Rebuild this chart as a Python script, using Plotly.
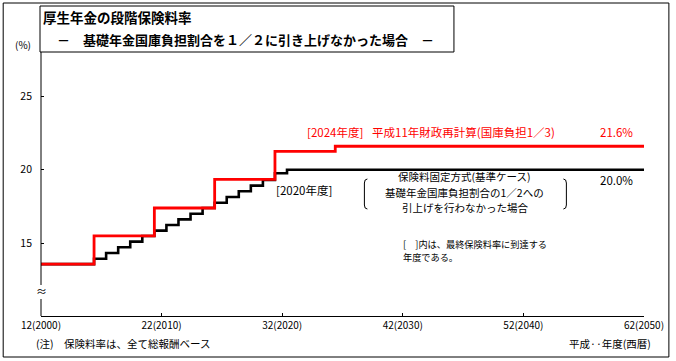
import plotly.graph_objects as go

# ---- data ----
red_years = [2000, 2004.4, 2009.4, 2014.4, 2019.4, 2024.4, 2050]
red_rates = [13.58, 15.5, 17.4, 19.35, 21.25, 21.6, 21.6]

black_years = [2000, 2004.4, 2005.4, 2006.4, 2007.4, 2008.4, 2009.4, 2010.4, 2011.4,
               2012.4, 2013.4, 2014.4, 2015.4, 2016.4, 2017.4, 2018.4, 2019.4, 2020.4, 2050]
black_rates = [13.58, 13.95, 14.34, 14.73, 15.11, 15.5, 15.86, 16.24, 16.63,
               17.01, 17.4, 17.76, 18.15, 18.54, 18.92, 19.3, 19.76, 20.0, 20.0]

x_tickvals = [2000, 2010, 2020, 2030, 2040, 2050]
x_ticktext = ["12(2000)", "22(2010)", "32(2020)", "42(2030)", "52(2040)", "62(2050)"]
y_tickvals = [15, 20, 25]
y_ticktext = ["15", "20", "25"]

W, H = 676, 361
L, R, T, B = 41, 647, 51, 316
FONT = "Noto Sans CJK JP"


def px(x):
    return (x - L) / (R - L)


def py(y):
    return (B - y) / (B - T)


fig = go.Figure()
fig.add_trace(go.Scatter(x=black_years, y=black_rates, mode="lines", line_shape="hv",
                         line=dict(color="#000000", width=2.6), hoverinfo="skip",
                         showlegend=False))
fig.add_trace(go.Scatter(x=red_years, y=red_rates, mode="lines", line_shape="hv",
                         line=dict(color="#FF0000", width=2.8), hoverinfo="skip",
                         showlegend=False))

shapes = []
# outer frame
shapes.append(dict(type="rect", xref="paper", yref="paper", x0=px(3), x1=px(672),
                   y0=py(357), y1=py(3), line=dict(color="black", width=1)))
# title box
shapes.append(dict(type="rect", xref="paper", yref="paper", x0=px(40), x1=px(456),
                   y0=py(52), y1=py(6), line=dict(color="black", width=1),
                   fillcolor="white", layer="above"))
# y axis line with break
shapes.append(dict(type="line", xref="paper", yref="paper", x0=0, x1=0,
                   y0=py(316), y1=py(299), line=dict(color="black", width=1)))
shapes.append(dict(type="line", xref="paper", yref="paper", x0=0, x1=0,
                   y0=py(285), y1=py(52), line=dict(color="black", width=1)))


# large brackets around the black-line caption
def bracket(xc, top, bot, left=True):
    d = 3 if left else -3
    return dict(type="path", xref="paper", yref="paper",
                path=(f"M {px(xc + d)},{py(top)} Q {px(xc)},{py(top)} {px(xc)},{py(top + 4)} "
                      f"L {px(xc)},{py(bot - 4)} Q {px(xc)},{py(bot)} {px(xc + d)},{py(bot)}"),
                line=dict(color="black", width=1))


shapes.append(bracket(366, 179, 209, True))
shapes.append(bracket(569, 179, 209, False))

ann = []


def text(x, y, s, size=12, color="black", xanchor="left", bold=False, align="left"):
    ann.append(dict(x=px(x), y=py(y), xref="paper", yref="paper", text=s,
                    showarrow=False, xanchor=xanchor, yanchor="middle", align=align,
                    font=dict(family=FONT, size=size, color=color,
                              weight="bold" if bold else "normal")))


text(41, 17, "厚生年金の段階保険料率", size=13.5, bold=True)
text(55, 39, "－　基礎年金国庫負担割合を１／２に引き上げなかった場合　－", size=13, bold=True)
text(23, 44, "(%)", size=10, xanchor="center")
text(41, 291, "≈", size=11, xanchor="center")

text(306, 132, "[2024年度]", size=11.5, color="#FF0000")
text(372, 132, "平成11年財政再計算(国庫負担1／3)", size=11.5, color="#FF0000")
text(601, 132, "21.6%", size=11.5, color="#FF0000")

text(601, 180, "20.0%", size=11.5)
text(275, 190, "[2020年度]", size=11.5)
text(467, 176.8, "保険料固定方式(基準ケース)", size=10.5, xanchor="center")
text(467, 192, "基礎年金国庫負担割合の1／2への", size=10.5, xanchor="center")
text(467, 207.2, "引上げを行わなかった場合", size=10.5, xanchor="center")

text(403, 243.5, "[　]内は、最終保険料率に到達する", size=9.2)
text(403, 257, "年度である。", size=9.2)

text(34, 343, "(注)　保険料率は、全て総報酬ベース", size=10.5)
text(656, 343, "平成··年度(西暦)", size=10.5, xanchor="right")

fig.update_layout(
    width=W, height=H,
    margin=dict(l=L, r=W - R, t=T, b=H - B),
    paper_bgcolor="white", plot_bgcolor="white",
    shapes=shapes, annotations=ann,
    xaxis=dict(range=[2000, 2050], tickvals=x_tickvals, ticktext=x_ticktext,
               ticks="inside", ticklen=3, tickcolor="black", showline=True,
               linecolor="black", linewidth=1, showgrid=False, zeroline=False,
               tickfont=dict(family=FONT, size=10, color="black")),
    yaxis=dict(range=[10.054, 28.08], tickvals=y_tickvals, ticktext=y_ticktext,
               ticks="inside", ticklen=3, tickcolor="black", showline=False,
               showgrid=False, zeroline=False, ticklabelstandoff=8,
               tickfont=dict(family=FONT, size=10.5, color="black")),
)

fig.write_html("out.html")
